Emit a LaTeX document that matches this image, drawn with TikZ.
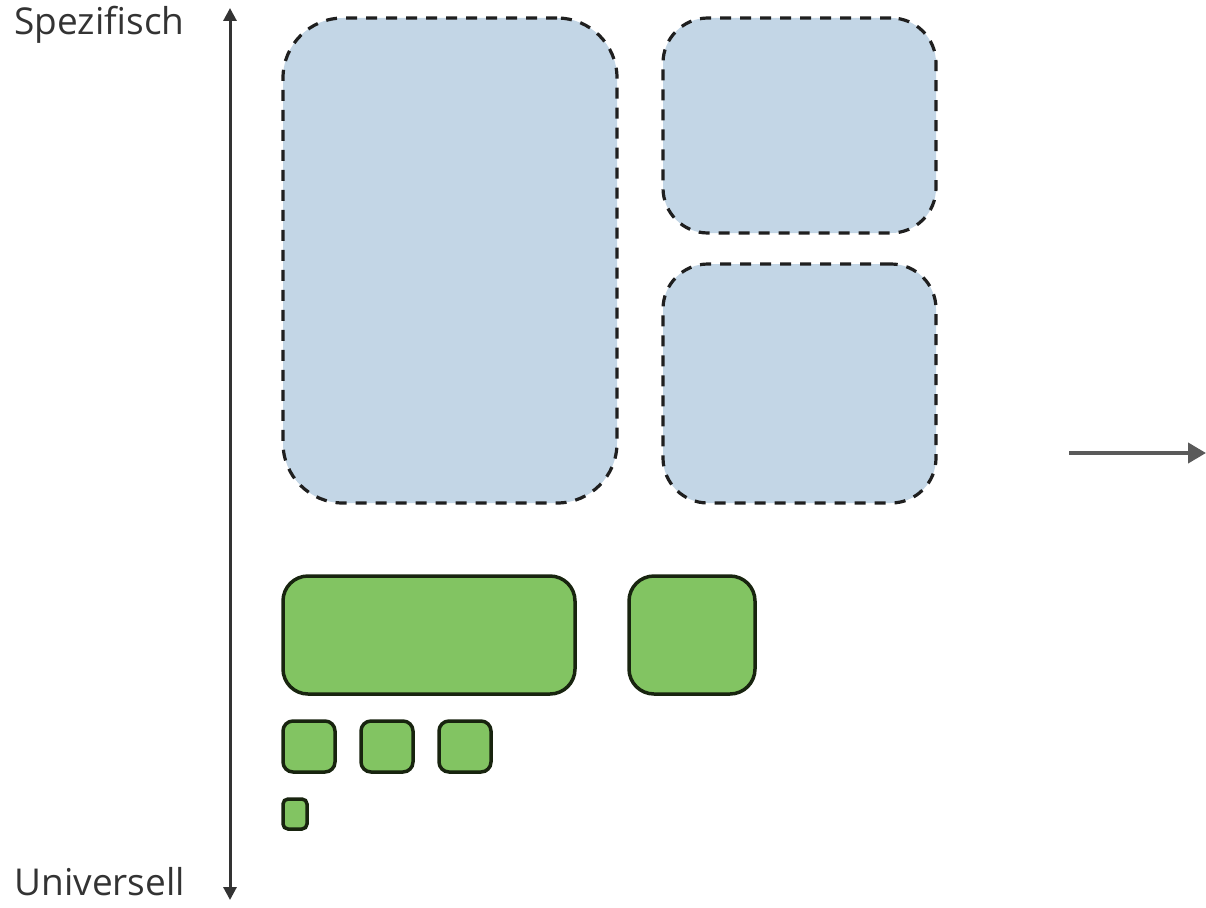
\documentclass[tikz,border=0pt]{standalone}
\usepackage{fontspec}
\setmainfont{Open Sans}
\usetikzlibrary{arrows.meta}

\definecolor{boxblue}{HTML}{C3D6E6}
\definecolor{boxgreen}{HTML}{82C462}
\definecolor{edgegreen}{HTML}{18240F}
\definecolor{axisgray}{HTML}{333333}
\definecolor{arrowgray}{HTML}{5A5A5A}

\tikzset{
  plan/.style={draw=black!88, fill=boxblue, line width=3.2pt, dash pattern=on 11pt off 9pt, inner sep=0pt},
  block/.style={draw=edgegreen, fill=boxgreen, line width=3.5pt, inner sep=0pt},
  label/.style={anchor=west, text=axisgray, font=\fontsize{37}{44}\selectfont}
}

\begin{document}
\begin{tikzpicture}[x=1pt, y=-1pt]
  \useasboundingbox (0,0) rectangle (1206,907);

  % axis
  \coordinate (top) at (230,8);
  \coordinate (bottom) at (230,900);
  \draw[axisgray, line width=3pt, {Triangle[width=13pt,length=13pt]}-{Triangle[width=13pt,length=13pt]}] (bottom) -- (top);
  \node[label] (spez) at (11,25) {Spezifisch};
  \node[label] (univ) at (11,882) {Universell};

  % blue blocks
  \node[plan, rounded corners=60pt, minimum width=334pt, minimum height=485pt] (big) at (450,260.5) {};
  \node[plan, rounded corners=45pt, minimum width=273pt, minimum height=215pt] (upper) at (799.5,125.5) {};
  \node[plan, rounded corners=45pt, minimum width=273pt, minimum height=239pt] (lower) at (799.5,383.5) {};

  % green blocks
  \node[block, rounded corners=25pt, minimum width=292pt, minimum height=118pt] (wide) at (429,635) {};
  \node[block, rounded corners=25pt, minimum width=126pt, minimum height=118pt] (square) at (692,635) {};
  \foreach \x [count=\i] in {309,387,465}
    \node[block, rounded corners=10pt, minimum width=52pt, minimum height=51pt] (small\i) at (\x,746.5) {};
  \node[block, rounded corners=5pt, minimum width=24pt, minimum height=30pt] (tiny) at (295,814) {};

  % arrow right
  \coordinate (from) at (1069,453);
  \coordinate (to) at (1206,453);
  \draw[arrowgray, line width=4pt, -{Triangle[width=20pt,length=18pt]}] (from) -- (to);
\end{tikzpicture}
\end{document}
